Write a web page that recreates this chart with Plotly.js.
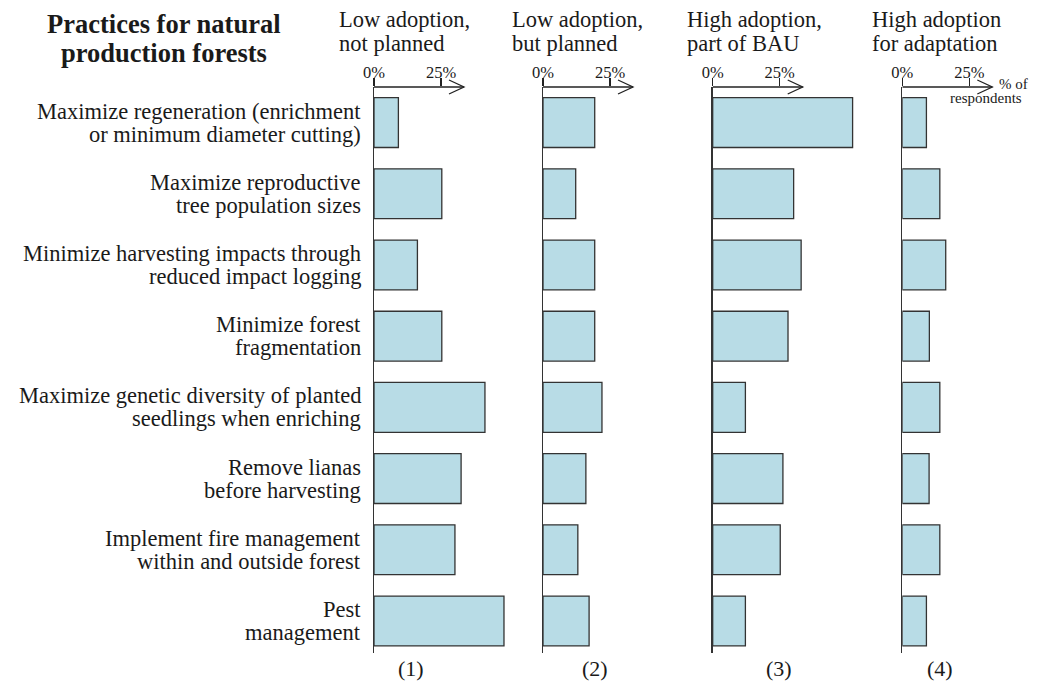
<!DOCTYPE html>
<html>
<head>
<meta charset="utf-8">
<script src="https://cdn.plot.ly/plotly-3.0.1.min.js"></script>
<style>html,body{margin:0;padding:0;background:#fff;}#chart{width:1039px;height:686px;}</style>
</head>
<body>
<div id="chart"></div>
<script>
// ---- data ----
const categories = [
  "Maximize regeneration (enrichment<br>or minimum diameter cutting)",
  "Maximize reproductive<br>tree population sizes",
  "Minimize harvesting impacts through<br>reduced impact logging",
  "Minimize forest<br>fragmentation",
  "Maximize genetic diversity of planted<br>seedlings when enriching",
  "Remove lianas<br>before harvesting",
  "Implement fire management<br>within and outside forest",
  "Pest<br>management"
];
const lowNotPlanned = [9.1, 25.3, 16.2, 25.3, 41.4, 32.5, 30.2, 48.5];
const lowButPlanned = [19.3, 12.2, 19.3, 19.3, 22.0, 16.0, 13.0, 17.2];
const highBAU       = [52.2, 30.2, 33.0, 28.1, 12.2, 26.2, 25.2, 12.2];
const highAdapt     = [9.0, 14.0, 16.2, 10.1, 14.0, 10.0, 14.0, 9.0];
const seriesValues = [lowNotPlanned, lowButPlanned, highBAU, highAdapt];
const panelHeaders = [
  ["Low adoption,", "not planned"],
  ["Low adoption,", "but planned"],
  ["High adoption,", "part of BAU"],
  ["High adoption", "for adaptation"]
];
const panelNumbers = ["(1)", "(2)", "(3)", "(4)"];
const tickVals = [0, 25];
const tickText = ["0%", "25%"];
const chartTitle = ["Practices for natural", "production forests"];
const unitLabel = ["% of", "respondents"];

// ---- layout geometry (pixels) ----
const W = 1039, H = 686;
const FONT = "Liberation Serif, Times New Roman, serif";
const pxPerUnit = 67 / 25;
const axisStartPx = [374, 543, 712.7, 902.3];
const axisEndPx = [534, 703, 892, 1039];
const headerLeftPx = [337, 510, 685, 870];
const numberCenterPx = [411, 595, 779, 939.5];
const yTopPx = 87, yBotPx = 653;
const arrowLenPx = 90;
const yTop = 1 - yTopPx / H, yBot = 1 - yBotPx / H;

const traces = [];
const layout = {
  width: W, height: H,
  margin: {l: 0, r: 0, t: 0, b: 0},
  paper_bgcolor: "#fff", plot_bgcolor: "rgba(0,0,0,0)",
  showlegend: false,
  font: {family: FONT, color: "#1a1a1a"},
  shapes: [], annotations: []
};

for (let i = 0; i < 4; i++) {
  const sfx = i === 0 ? "" : String(i + 1);
  traces.push({
    type: "bar", orientation: "h",
    x: seriesValues[i], y: categories,
    xaxis: "x" + sfx, yaxis: "y" + sfx,
    width: 0.70,
    marker: {color: "#b8dce6", line: {color: "#333333", width: 1.3}},
    hoverinfo: "skip"
  });
  const rangeMax = (axisEndPx[i] - axisStartPx[i]) / pxPerUnit;
  layout["xaxis" + sfx] = {
    domain: [axisStartPx[i] / W, axisEndPx[i] / W],
    range: [0, rangeMax], anchor: "y" + sfx, side: "top",
    showgrid: false, zeroline: false, showline: false,
    tickmode: "array", tickvals: tickVals, ticktext: tickText,
    ticks: "outside", ticklen: 8, tickwidth: 1.3, tickcolor: "#222",
    ticklabelstandoff: -7,
    tickfont: {family: FONT, size: 16.5, color: "#1a1a1a"},
    fixedrange: true
  };
  layout["yaxis" + sfx] = {
    domain: [yBot, yTop], anchor: "x" + sfx,
    type: "category", categoryorder: "array", categoryarray: categories,
    range: [7.45, -0.5],
    showgrid: false, zeroline: false,
    showline: true, linecolor: "#333", linewidth: 1.5,
    ticks: "", showticklabels: false,
    fixedrange: true
  };
  const tip = arrowLenPx / pxPerUnit;
  layout.shapes.push({
    type: "line", xref: "x" + sfx, yref: "paper",
    x0: 0, x1: tip, y0: yTop, y1: yTop,
    line: {color: "#222", width: 1.3}
  });
  layout.shapes.push({
    type: "path", xref: "x" + sfx, yref: "paper",
    xsizemode: "pixel", ysizemode: "pixel", xanchor: tip, yanchor: yTop,
    path: "M -15 7 L 0 0 L -15 -7",
    line: {color: "#222", width: 1.3}
  });
  panelHeaders[i].forEach((t, k) => {
    layout.annotations.push({
      text: t, xref: "paper", yref: "paper",
      x: headerLeftPx[i] / W, xanchor: "left",
      y: 1 - (19.5 + 23.5 * k) / H, yanchor: "middle",
      showarrow: false, font: {family: FONT, size: 22.5, color: "#1a1a1a"}
    });
  });
  layout.annotations.push({
    text: panelNumbers[i], xref: "paper", yref: "paper",
    x: numberCenterPx[i] / W, xanchor: "center",
    y: 1 - 668 / H, yanchor: "middle",
    showarrow: false, font: {family: FONT, size: 22, color: "#1a1a1a"}
  });
}

// category labels: right-aligned next to the first panel's axis, two tight lines
categories.forEach((c) => {
  const lines = c.split("<br>");
  lines.forEach((t, k) => {
    layout.annotations.push({
      text: t, xref: "x", yref: "y", x: 0, y: c,
      xanchor: "right", yanchor: "middle", xshift: -11,
      yshift: (lines.length - 1) * 11.5 - 23 * k,
      showarrow: false, font: {family: FONT, size: 22.5, color: "#1a1a1a"}
    });
  });
});

chartTitle.forEach((t, k) => {
  layout.annotations.push({
    text: "<b>" + t + "</b>", xref: "paper", yref: "paper",
    x: 164 / W, xanchor: "center",
    y: 1 - (24 + 28.5 * k) / H, yanchor: "middle",
    showarrow: false, font: {family: FONT, size: 26.5, color: "#1a1a1a"}
  });
});
layout.annotations.push({
  text: unitLabel[0], xref: "paper", yref: "paper",
  x: 1030 / W, xanchor: "right", y: 1 - 84 / H, yanchor: "middle",
  showarrow: false, font: {family: FONT, size: 15, color: "#1a1a1a"}
});
layout.annotations.push({
  text: unitLabel[1], xref: "paper", yref: "paper",
  x: 1024 / W, xanchor: "right", y: 1 - 98 / H, yanchor: "middle",
  showarrow: false, font: {family: FONT, size: 15, color: "#1a1a1a"}
});

Plotly.newPlot("chart", traces, layout, {displayModeBar: false, staticPlot: true});
</script>
</body>
</html>
